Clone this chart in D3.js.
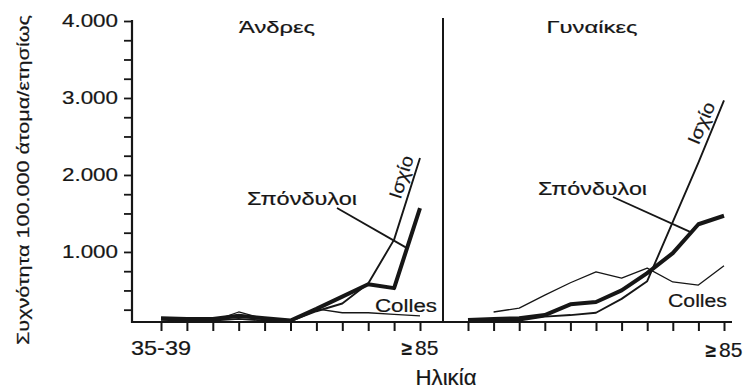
<!DOCTYPE html>
<html>
<head>
<meta charset="utf-8">
<script src="https://cdn.jsdelivr.net/npm/d3@7"></script>
<style>
  html, body { margin: 0; padding: 0; background: #fff; }
  svg { display: block; font-family: "Liberation Sans", Arial, Helvetica, sans-serif; }
  svg text { stroke: #161616; stroke-width: 0.2px; }
</style>
</head>
<body>
<svg id="chart" width="747" height="391"></svg>
<script>
// Age groups (x axis), shared by both panels
const ageGroups = ["35-39", "40-44", "45-49", "50-54", "55-59", "60-64",
                   "65-69", "70-74", "75-79", "80-84", "≥85"];

// Value axis ticks (cases per 100.000 people per year)
const yMinorTicks = [250, 500, 750, 1000, 1250, 1500, 1750, 2000, 2250, 2500,
                     2750, 3000, 3250, 3500, 3750, 4000];
const yMajorTicks = [1000, 2000, 3000, 4000];
const yTickLabels = ["1.000", "2.000", "3.000", "4.000"];

// Men
const menVertebrae = [140, 130, 130, 170, 140, 110, 260, 420, 580, 530, 1570];
const menHip       = [100, 110, 110, 130, 110, 100, 230, 330, 590, 1160, 2220];
const menColles    = [90, 100, 100, 220, 130, 100, 260, 210, 210, 190, 170];

// Women
const womenVertebrae = [115, 130, 140, 180, 320, 350, 500, 725, 985, 1360, 1470];
const womenHip       = [100, 105, 110, 160, 180, 210, 390, 620, 1390, 2160, 2970];
const womenColles    = [null, 220, 270, 440, 600, 740, 660, 790, 610, 570, 820];

const svg = d3.select("#chart");
const ink = "#161616";

// Value scale: the age baseline sits at 90 cases
const yFloor = 90;
const y = d3.scaleLinear().domain([yFloor, 4000]).range([322, 21]);

const axisLeftX = 132;
const dividerX = 443;
const axisRightEnd = 732;

const xMen = d3.scalePoint().domain(ageGroups).range([161, 420]);
const xWomen = d3.scalePoint().domain(ageGroups).range([468, 724]);

// ---- value axis ----
const yAxis = d3.axisLeft(y)
  .tickValues(yMinorTicks)
  .tickSize(8)
  .tickFormat("");
const gy = svg.append("g")
  .attr("transform", `translate(${axisLeftX},0)`)
  .call(yAxis);
gy.select(".domain").remove();
gy.selectAll(".tick line").attr("stroke", ink).attr("stroke-width", 1.8);
svg.append("line")
  .attr("x1", axisLeftX).attr("x2", axisLeftX)
  .attr("y1", y(4000) - 1).attr("y2", y(yFloor) + 1)
  .attr("stroke", ink).attr("stroke-width", 2.2);

svg.append("g").selectAll("text")
  .data(yMajorTicks)
  .join("text")
  .attr("x", 118)
  .attr("y", d => y(d))
  .attr("dy", "0.36em")
  .attr("text-anchor", "end")
  .attr("font-size", 18)
  .attr("fill", ink)
  .attr("textLength", 56)
  .attr("lengthAdjust", "spacingAndGlyphs")
  .text((d, i) => yTickLabels[i]);

svg.append("text")
  .attr("transform", `translate(29,180) rotate(-90)`)
  .attr("text-anchor", "middle")
  .attr("font-size", 17)
  .attr("fill", ink)
  .attr("textLength", 330)
  .attr("lengthAdjust", "spacingAndGlyphs")
  .text("Συχνότητα 100.000 άτομα/ετησίως");

// ---- age axis (one baseline across both panels) ----
svg.append("line")
  .attr("x1", axisLeftX - 1).attr("x2", axisRightEnd)
  .attr("y1", y(yFloor)).attr("y2", y(yFloor))
  .attr("stroke", ink).attr("stroke-width", 2.2);

[xMen, xWomen].forEach(xs => {
  const g = svg.append("g")
    .attr("transform", `translate(0,${y(yFloor)})`)
    .call(d3.axisBottom(xs).tickSize(9).tickFormat(""));
  g.select(".domain").remove();
  g.selectAll(".tick line").attr("stroke", ink).attr("stroke-width", 2);
});

// panel divider
svg.append("line")
  .attr("x1", dividerX).attr("x2", dividerX)
  .attr("y1", 18).attr("y2", y(yFloor))
  .attr("stroke", ink).attr("stroke-width", 2);

// age labels
svg.append("text")
  .attr("x", xMen(ageGroups[0])).attr("y", 355)
  .attr("text-anchor", "middle").attr("font-size", 21).attr("fill", ink)
  .attr("textLength", 60).attr("lengthAdjust", "spacingAndGlyphs")
  .text(ageGroups[0]);

function lastLabel(xs, baseY) {
  const t = svg.append("text")
    .attr("x", xs(ageGroups[ageGroups.length - 1])).attr("y", baseY)
    .attr("text-anchor", "middle").attr("fill", ink);
  t.append("tspan").attr("font-size", 19).attr("font-weight", "bold").text("≥");
  t.append("tspan").attr("font-size", 21).attr("dx", 3).text("85");
}
lastLabel(xMen, 355);
lastLabel(xWomen, 357);

svg.append("text")
  .attr("x", dividerX + 3).attr("y", 385)
  .attr("text-anchor", "middle").attr("font-size", 22).attr("fill", ink)
  .attr("textLength", 61).attr("lengthAdjust", "spacingAndGlyphs")
  .text("Ηλικία");

// panel titles
svg.append("text")
  .attr("x", 277).attr("y", 33)
  .attr("text-anchor", "middle").attr("font-size", 16).attr("fill", ink)
  .attr("textLength", 76).attr("lengthAdjust", "spacingAndGlyphs")
  .text("Άνδρες");
svg.append("text")
  .attr("x", 592).attr("y", 33)
  .attr("text-anchor", "middle").attr("font-size", 16).attr("fill", ink)
  .attr("textLength", 91).attr("lengthAdjust", "spacingAndGlyphs")
  .text("Γυναίκες");

// ---- series ----
function drawSeries(xs, values, width) {
  const line = d3.line()
    .defined(d => d != null)
    .x((d, i) => xs(ageGroups[i]))
    .y(d => y(d));
  svg.append("path")
    .datum(values)
    .attr("d", line)
    .attr("fill", "none")
    .attr("stroke", ink)
    .attr("stroke-width", width)
    .attr("stroke-linejoin", "round")
    .attr("stroke-linecap", "butt");
}

// point on a series at a fractional age index
function pointAt(xs, values, t) {
  const i = Math.min(Math.floor(t), values.length - 2);
  const f = t - i;
  const x0 = xs(ageGroups[i]), x1 = xs(ageGroups[i + 1]);
  return [x0 + (x1 - x0) * f, y(values[i] + (values[i + 1] - values[i]) * f)];
}

function drawPanel(xs, vert, hip, colles, opt) {
  drawSeries(xs, colles, 1.3);
  drawSeries(xs, hip, 1.9);
  drawSeries(xs, vert, 4);

  // leader from the vertebrae label to its line
  const end = pointAt(xs, vert, opt.leaderT);
  svg.append("line")
    .attr("x1", opt.leaderStart[0]).attr("y1", opt.leaderStart[1])
    .attr("x2", end[0]).attr("y2", end[1])
    .attr("stroke", ink).attr("stroke-width", 1.8);

  svg.append("text")
    .attr("x", opt.vertLabel[0]).attr("y", opt.vertLabel[1])
    .attr("font-size", 18).attr("fill", ink)
    .attr("textLength", opt.vertLabel[2]).attr("lengthAdjust", "spacingAndGlyphs")
    .text("Σπόνδυλοι");

  svg.append("text")
    .attr("x", opt.collesLabel[0]).attr("y", opt.collesLabel[1])
    .attr("font-size", 18).attr("fill", ink)
    .attr("textLength", opt.collesLabel[2]).attr("lengthAdjust", "spacingAndGlyphs")
    .text("Colles");

  // hip label runs along the final rise of the hip line
  const a = pointAt(xs, hip, opt.hipSeg[0]);
  const b = pointAt(xs, hip, opt.hipSeg[1]);
  const ang = Math.atan2(b[1] - a[1], b[0] - a[0]) * 180 / Math.PI;
  svg.append("text")
    .attr("transform", `translate(${opt.hipLabel[0]},${opt.hipLabel[1]}) rotate(${ang})`)
    .attr("text-anchor", "middle")
    .attr("dy", "0.36em")
    .attr("font-size", 18).attr("fill", ink)
    .attr("textLength", 44).attr("lengthAdjust", "spacingAndGlyphs")
    .text("Ισχίο");
}

drawPanel(xMen, menVertebrae, menHip, menColles, {
  leaderT: 9.5,
  leaderStart: [337, 208],
  vertLabel: [247, 205, 110],
  collesLabel: [375, 312, 62],
  hipSeg: [9, 10],
  hipLabel: [401, 177]
});

drawPanel(xWomen, womenVertebrae, womenHip, womenColles, {
  leaderT: 8.72,
  leaderStart: [613, 197],
  vertLabel: [538, 195, 109],
  collesLabel: [668, 307, 59],
  hipSeg: [8, 10],
  hipLabel: [701, 123]
});
</script>
</body>
</html>
